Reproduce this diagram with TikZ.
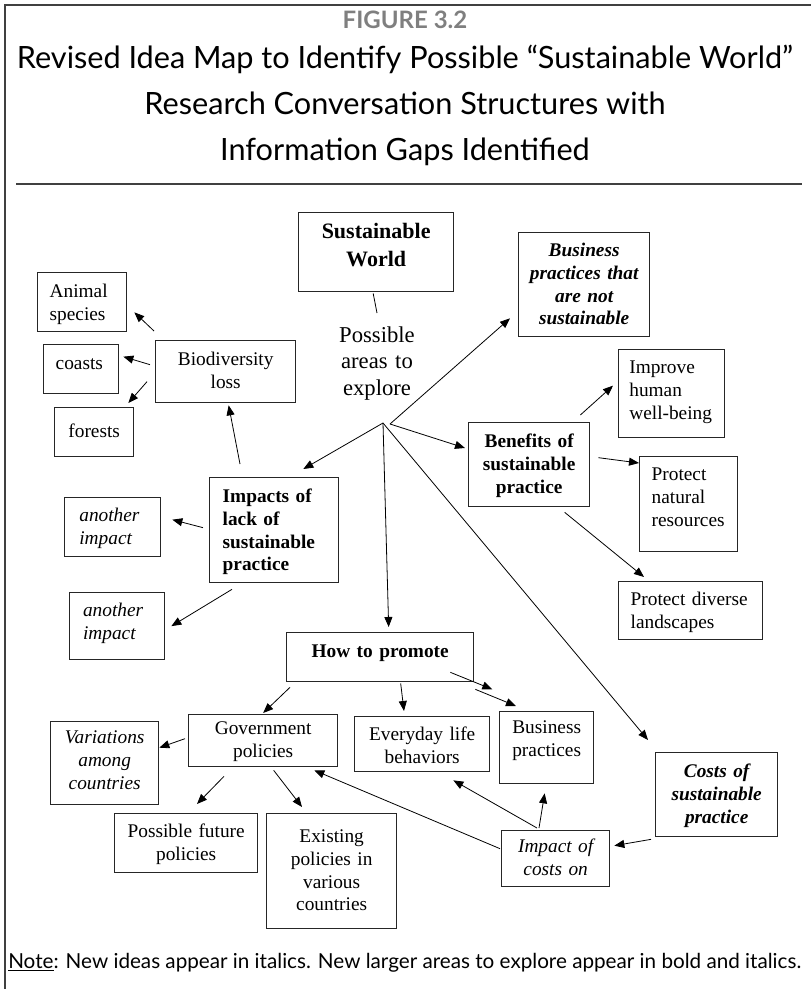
\documentclass[tikz,border=0pt]{standalone}
\usepackage{fontspec}
\setmainfont{Liberation Serif}
\newfontfamily\headfont{Lato}
\usetikzlibrary{positioning,arrows.meta}
\newcommand{\mapfont}{\fontsize{14.5}{17}\selectfont}
\definecolor{figgray}{HTML}{7F7F7F}
\tikzset{font=\mapfont}
\tikzset{
	box/.style={draw=black!85, line width=1pt, anchor=north west, inner ysep=0pt, inner xsep=4.5pt, align=center},
	lbox/.style={box, align=left, inner xsep=9pt},
	arr/.style={-{Triangle[length=7.5pt,width=6pt]}, line width=0.6pt},
}

\begin{document}
\begin{tikzpicture}[x=0.75pt,y=-0.75pt]
	\useasboundingbox (0,0) rectangle (811,989);
	% frame and heading
	\draw[line width=1.6pt, black!75] (5,989) -- (5,5) -- (811,5);
	\node[font=\headfont\bfseries\fontsize{18}{21}\selectfont, text=figgray] (fig) at (405,20) {FIGURE 3.2};
	\node[font=\headfont\fontsize{23}{34.5}\selectfont, align=center, anchor=north] (title) at (405,40)
		{Revised Idea Map to Identify Possible “Sustainable World”\\Research Conversation Structures with\\Information Gaps Identified};
	\draw[line width=1.4pt, black!75] (16,184) -- (802,184);
	
	\begin{scope}
		% centre
		\node[box, text width=107.25pt, text height=19.5pt, text depth=39.75pt, font=\bfseries\fontsize{16.5}{21}\selectfont] (sw) at (298,212) {Sustainable\\World};
		\node[inner sep=0pt, anchor=north, text width=80pt, align=center, text height=12pt, font=\fontsize{17}{20}\selectfont] (poss) at (377,326) {Possible\\areas to\\explore};
		\coordinate (hub) at (383,423);
		
		% left branch
		\node[lbox, text width=48.75pt, text height=18.75pt, text depth=25.5pt] (animal) at (37,272) {Animal\\species};
		\node[lbox, text width=38.25pt, text height=18.75pt, text depth=18pt] (coasts) at (43,344) {coasts};
		\node[box, text width=50.25pt, text height=22.5pt, text depth=14.25pt] (forests) at (54,407) {forests};
		\node[box, text width=96pt, text height=18.75pt, text depth=27.75pt] (bio) at (155,340) {Biodiversity\\loss};
		\node[lbox, inner xsep=9.75pt, text width=77.25pt, text height=18.75pt, text depth=60pt, font=\mapfont\bfseries] (imp) at (209,477) {Impacts of\\lack of\\sustainable\\practice};
		\node[lbox, inner xsep=11pt, text width=50pt, text height=18pt, text depth=26.25pt, font=\mapfont\itshape] (ano1) at (64,497) {another\\impact};
		\node[lbox, inner xsep=10pt, text width=51.25pt, text height=18pt, text depth=32.25pt, font=\mapfont\itshape] (ano2) at (69,592) {another\\impact};
		
		% right branch
		\node[box, text width=89.25pt, text height=18pt, text depth=60pt, font=\mapfont\bfseries\itshape] (busns) at (518,232) {Business\\practices that\\are not\\sustainable};
		\node[box, text width=81.75pt, text height=18.75pt, text depth=44.25pt, font=\mapfont\bfseries] (ben) at (468,422) {Benefits of\\sustainable\\practice};
		\node[lbox, inner xsep=8pt, text width=63.5pt, text height=18pt, text depth=48pt] (improve) at (618,349) {Improve\\human\\well-being};
		\node[lbox, text width=55.5pt, text height=18pt, text depth=53.25pt] (natres) at (639,456) {Protect\\natural\\resources};
		\node[lbox, text width=90pt, text height=18pt, text depth=25.5pt] (divland) at (618,581) {Protect diverse\\landscapes};
		
		% lower part
		\node[box, text width=131.25pt, text height=18.75pt, text depth=18pt, font=\mapfont\bfseries] (promo) at (286,632) {How to promote};
		\node[box, text width=102.75pt, text height=15pt, text depth=24pt] (gov) at (188,714) {Government\\policies};
		\node[box, text width=72pt, text height=16.5pt, text depth=45.75pt, font=\mapfont\itshape] (vari) at (50,721) {Variations\\among\\countries};
		\node[box, text width=98.25pt, text height=18pt, text depth=26.25pt] (posfut) at (114,813) {Possible future\\policies};
		\node[box, text width=88.5pt, text height=21.75pt, text depth=64.5pt] (exist) at (266,813) {Existing\\policies in\\various\\countries};
		\node[box, text width=92.25pt, text height=18pt, text depth=23.25pt] (every) at (354,716) {Everyday life\\behaviors};
		\node[box, text width=61.5pt, text height=16.5pt, text depth=37.5pt] (buspr) at (499,711) {Business\\practices};
		\node[box, text width=82.5pt, text height=18.75pt, text depth=44.25pt, font=\mapfont\bfseries\itshape] (costs) at (655,752) {Costs of\\sustainable\\practice};
		\node[box, text width=72pt, text height=16.5pt, text depth=25.5pt, font=\mapfont\itshape] (impcost) at (501,830) {Impact of\\costs on};
		\coordinate (promoend) at ([shift={(18,7)}]promo.south east);
		
		\draw[line width=0.6pt] ([shift={(-3,1)}]sw.south) -- ([shift={(0,-13)}]poss.north);
		
		\draw[arr] ([shift={(-1,-9)}]bio.north west) -- ([shift={(7,-20)}]animal.south east);
		\draw[arr] ([shift={(-5,-7)}]bio.west) -- ([shift={(4,-12.5)}]coasts.east);
		\draw[arr] ([shift={(-8,10)}]bio.west) -- ([shift={(-6,-4)}]forests.north east);
		\draw[arr] ([shift={(31,-13)}]imp.north west) -- ([shift={(3,2)}]bio.south);
		\draw[arr] ([shift={(-6,-2.5)}]imp.west) -- ([shift={(11,-7.5)}]ano1.east);
		\draw[arr] ([shift={(23,6)}]imp.south west) -- ([shift={(6,0)}]ano2.east);
		
		\draw[arr] (hub) -- ([shift={(-36,-8)}]imp.north east);
		\draw[arr] (hub) -- ([shift={(8.5,-5)}]promo.north);
		\draw[arr] ([shift={(7,1)}]hub) -- ([shift={(-3,26)}]ben.north west);
		\draw[arr] ([shift={(7,1)}]hub) -- ([shift={(-8,-19)}]busns.south west);
		\draw[arr] (hub) -- ([shift={(-7,-12)}]costs.north west);
		
		\draw[arr] ([shift={(-10,-7)}]ben.north east) -- ([shift={(-5,-8)}]improve.west);
		\draw[arr] ([shift={(8,-7)}]ben.east) -- ([shift={(0,7)}]natres.north west);
		\draw[arr] ([shift={(35.5,5)}]ben.south) -- ([shift={(26,-4)}]divland.north west);
		
		\draw[arr] ([shift={(4,5)}]promo.south west) -- ([shift={(0,-1)}]gov.north);
		\draw[arr] ([shift={(20.5,1)}]promo.south) -- ([shift={(50,-5)}]every.north west);
		\draw[arr] ([shift={(-24,-10)}]promo.south east) -- (promoend);
		\draw[arr] ([shift={(1,7)}]promo.south east) -- ([shift={(17,-5)}]buspr.north west);
		
		\draw[arr] ([shift={(-3,-2)}]gov.west) -- ([shift={(0,-15.5)}]vari.east);
		\draw[arr] ([shift={(36,9)}]gov.south west) -- ([shift={(83,-9)}]posfut.north west);
		\draw[arr] ([shift={(10.5,3)}]gov.south) -- ([shift={(36,-6)}]exist.north west);
		
		\draw[arr] ([shift={(-1,-10)}]impcost.west) -- ([shift={(-24,3)}]gov.south east);
		\draw[arr] ([shift={(36,-2)}]impcost.north west) -- ([shift={(-37,8)}]every.south east);
		\draw[arr] ([shift={(38,-2)}]impcost.north west) -- ([shift={(-2,9)}]buspr.south);
		\draw[arr] ([shift={(-4,2)}]costs.south west) -- ([shift={(4,-13)}]impcost.east);
	\end{scope}
	
	\node[font=\headfont\fontsize{15.5}{18}\selectfont, anchor=base west, inner sep=0pt] (note) at (8,968)
		{\underline{Note}: New ideas appear in italics. New larger areas to explore appear in bold and italics.};
\end{tikzpicture}
\end{document}
